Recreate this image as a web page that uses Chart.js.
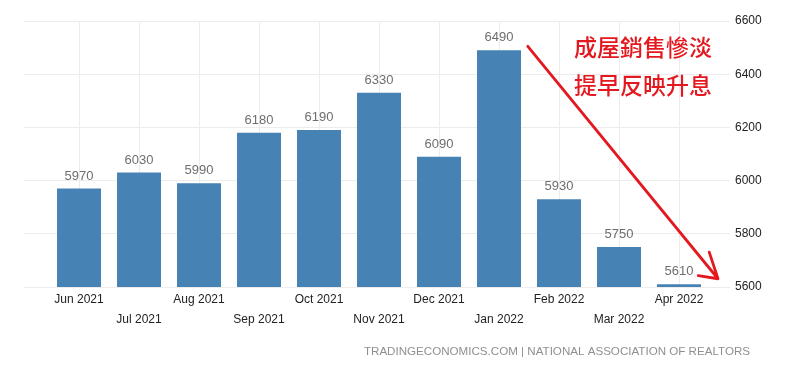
<!DOCTYPE html>
<html>
<head>
<meta charset="utf-8">
<script src="https://cdn.jsdelivr.net/npm/chart.js@4.4.1/dist/chart.umd.min.js"></script>
<style>
html,body{margin:0;padding:0;background:#fff;}
#wrap{width:800px;height:373px;position:relative;}
</style>
</head>
<body>
<div id="wrap"><canvas id="c" width="800" height="373"></canvas></div>
<script>
const categories = ["Jun 2021","Jul 2021","Aug 2021","Sep 2021","Oct 2021","Nov 2021","Dec 2021","Jan 2022","Feb 2022","Mar 2022","Apr 2022"];
const sales = [5970, 6030, 5990, 6180, 6190, 6330, 6090, 6490, 5930, 5750, 5610];
const yTicks = [5600, 5800, 6000, 6200, 6400, 6600];
const noteLines = ["成屋銷售慘淡", "提早反映升息"];
const sourceText = "TRADINGECONOMICS.COM | NATIONAL ASSOCIATION OF REALTORS";
// arrow anchored in data space: [index, value]
const arrowFrom = [7.48, 6505];
const arrowTo = [10.65, 5631];

const points = sales.map((v, i) => ({x: i, y: v}));

const labelsPlugin = {
  id: 'extras',
  afterDatasetsDraw(chart) {
    const ctx = chart.ctx;
    const meta = chart.getDatasetMeta(0);
    ctx.save();
    ctx.font = '13px "Liberation Sans", Arial, sans-serif';
    ctx.fillStyle = '#6e6e6e';
    ctx.textAlign = 'center';
    ctx.textBaseline = 'bottom';
    meta.data.forEach((bar, i) => {
      ctx.fillText(String(sales[i]), bar.x, bar.y - 6);
    });
    ctx.restore();

    // arrow
    const xs = chart.scales.x, ys = chart.scales.y;
    const x1 = xs.getPixelForValue(arrowFrom[0]), y1 = ys.getPixelForValue(arrowFrom[1]);
    const x2 = xs.getPixelForValue(arrowTo[0]), y2 = ys.getPixelForValue(arrowTo[1]);
    ctx.save();
    ctx.strokeStyle = '#e3191f';
    ctx.lineWidth = 2.8;
    ctx.lineCap = 'round';
    ctx.lineJoin = 'round';
    ctx.beginPath();
    ctx.moveTo(x1, y1);
    ctx.lineTo(x2, y2);
    const back = Math.atan2(y1 - y2, x1 - x2);
    const w1 = back + 21 * Math.PI / 180, w2 = back - 42 * Math.PI / 180;
    ctx.moveTo(x2 + 28 * Math.cos(w1), y2 + 28 * Math.sin(w1));
    ctx.lineTo(x2, y2);
    ctx.lineTo(x2 + 20 * Math.cos(w2), y2 + 20 * Math.sin(w2));
    ctx.stroke();
    ctx.restore();

    // note text
    ctx.save();
    ctx.fillStyle = '#e3191f';
    ctx.font = '500 23px "Noto Sans CJK TC", sans-serif';
    ctx.textAlign = 'center';
    ctx.textBaseline = 'middle';
    const ca = chart.chartArea;
    ctx.fillText(noteLines[0], ca.right - 87, ca.top + 26);
    ctx.fillText(noteLines[1], ca.right - 87, ca.top + 64);
    ctx.restore();

    // source
    ctx.save();
    ctx.fillStyle = '#8f8f8f';
    ctx.font = '11.6px "Liberation Sans", Arial, sans-serif';
    ctx.textAlign = 'right';
    ctx.textBaseline = 'middle';
    ctx.fillText(sourceText, 750, 352);
    ctx.restore();
  }
};

new Chart(document.getElementById('c'), {
  type: 'bar',
  data: {
    datasets: [{
      data: points,
      backgroundColor: '#4682b4',
      borderWidth: 0,
      barPercentage: 0.733,
      categoryPercentage: 1.0
    }]
  },
  options: {
    responsive: false,
    animation: false,
    devicePixelRatio: 1,
    layout: {padding: {left: 24, top: 21, right: 0, bottom: 0}},
    plugins: {legend: {display: false}, tooltip: {enabled: false}},
    scales: {
      x: {
        type: 'linear',
        offset: false,
        min: -0.917,
        max: 10.85,
        afterBuildTicks(axis) { axis.ticks = categories.map((c, i) => ({value: i})); },
        afterFit(axis) { axis.height = 86; },
        grid: {color: '#ececec', lineWidth: 1, drawTicks: false, offset: false},
        border: {display: false},
        ticks: {
          autoSkip: false,
          maxRotation: 0,
          padding: 3,
          color: '#222',
          font: {family: '"Liberation Sans", Arial, sans-serif', size: 12, lineHeight: 1.67},
          callback(v) {
            const i = Math.round(v);
            return i % 2 === 0 ? [categories[i], ''] : ['', categories[i]];
          }
        }
      },
      y: {
        position: 'right',
        min: 5600,
        max: 6600,
        afterBuildTicks(axis) { axis.ticks = yTicks.map(v => ({value: v})); },
        afterFit(axis) { axis.width = 70; },
        grid: {color: '#ececec', lineWidth: 1, drawTicks: false},
        border: {display: false},
        ticks: {
          padding: 5,
          color: '#222',
          font: {family: '"Liberation Sans", Arial, sans-serif', size: 12},
          callback(v) { return String(v); }
        }
      }
    }
  },
  plugins: [labelsPlugin]
});
</script>
</body>
</html>
